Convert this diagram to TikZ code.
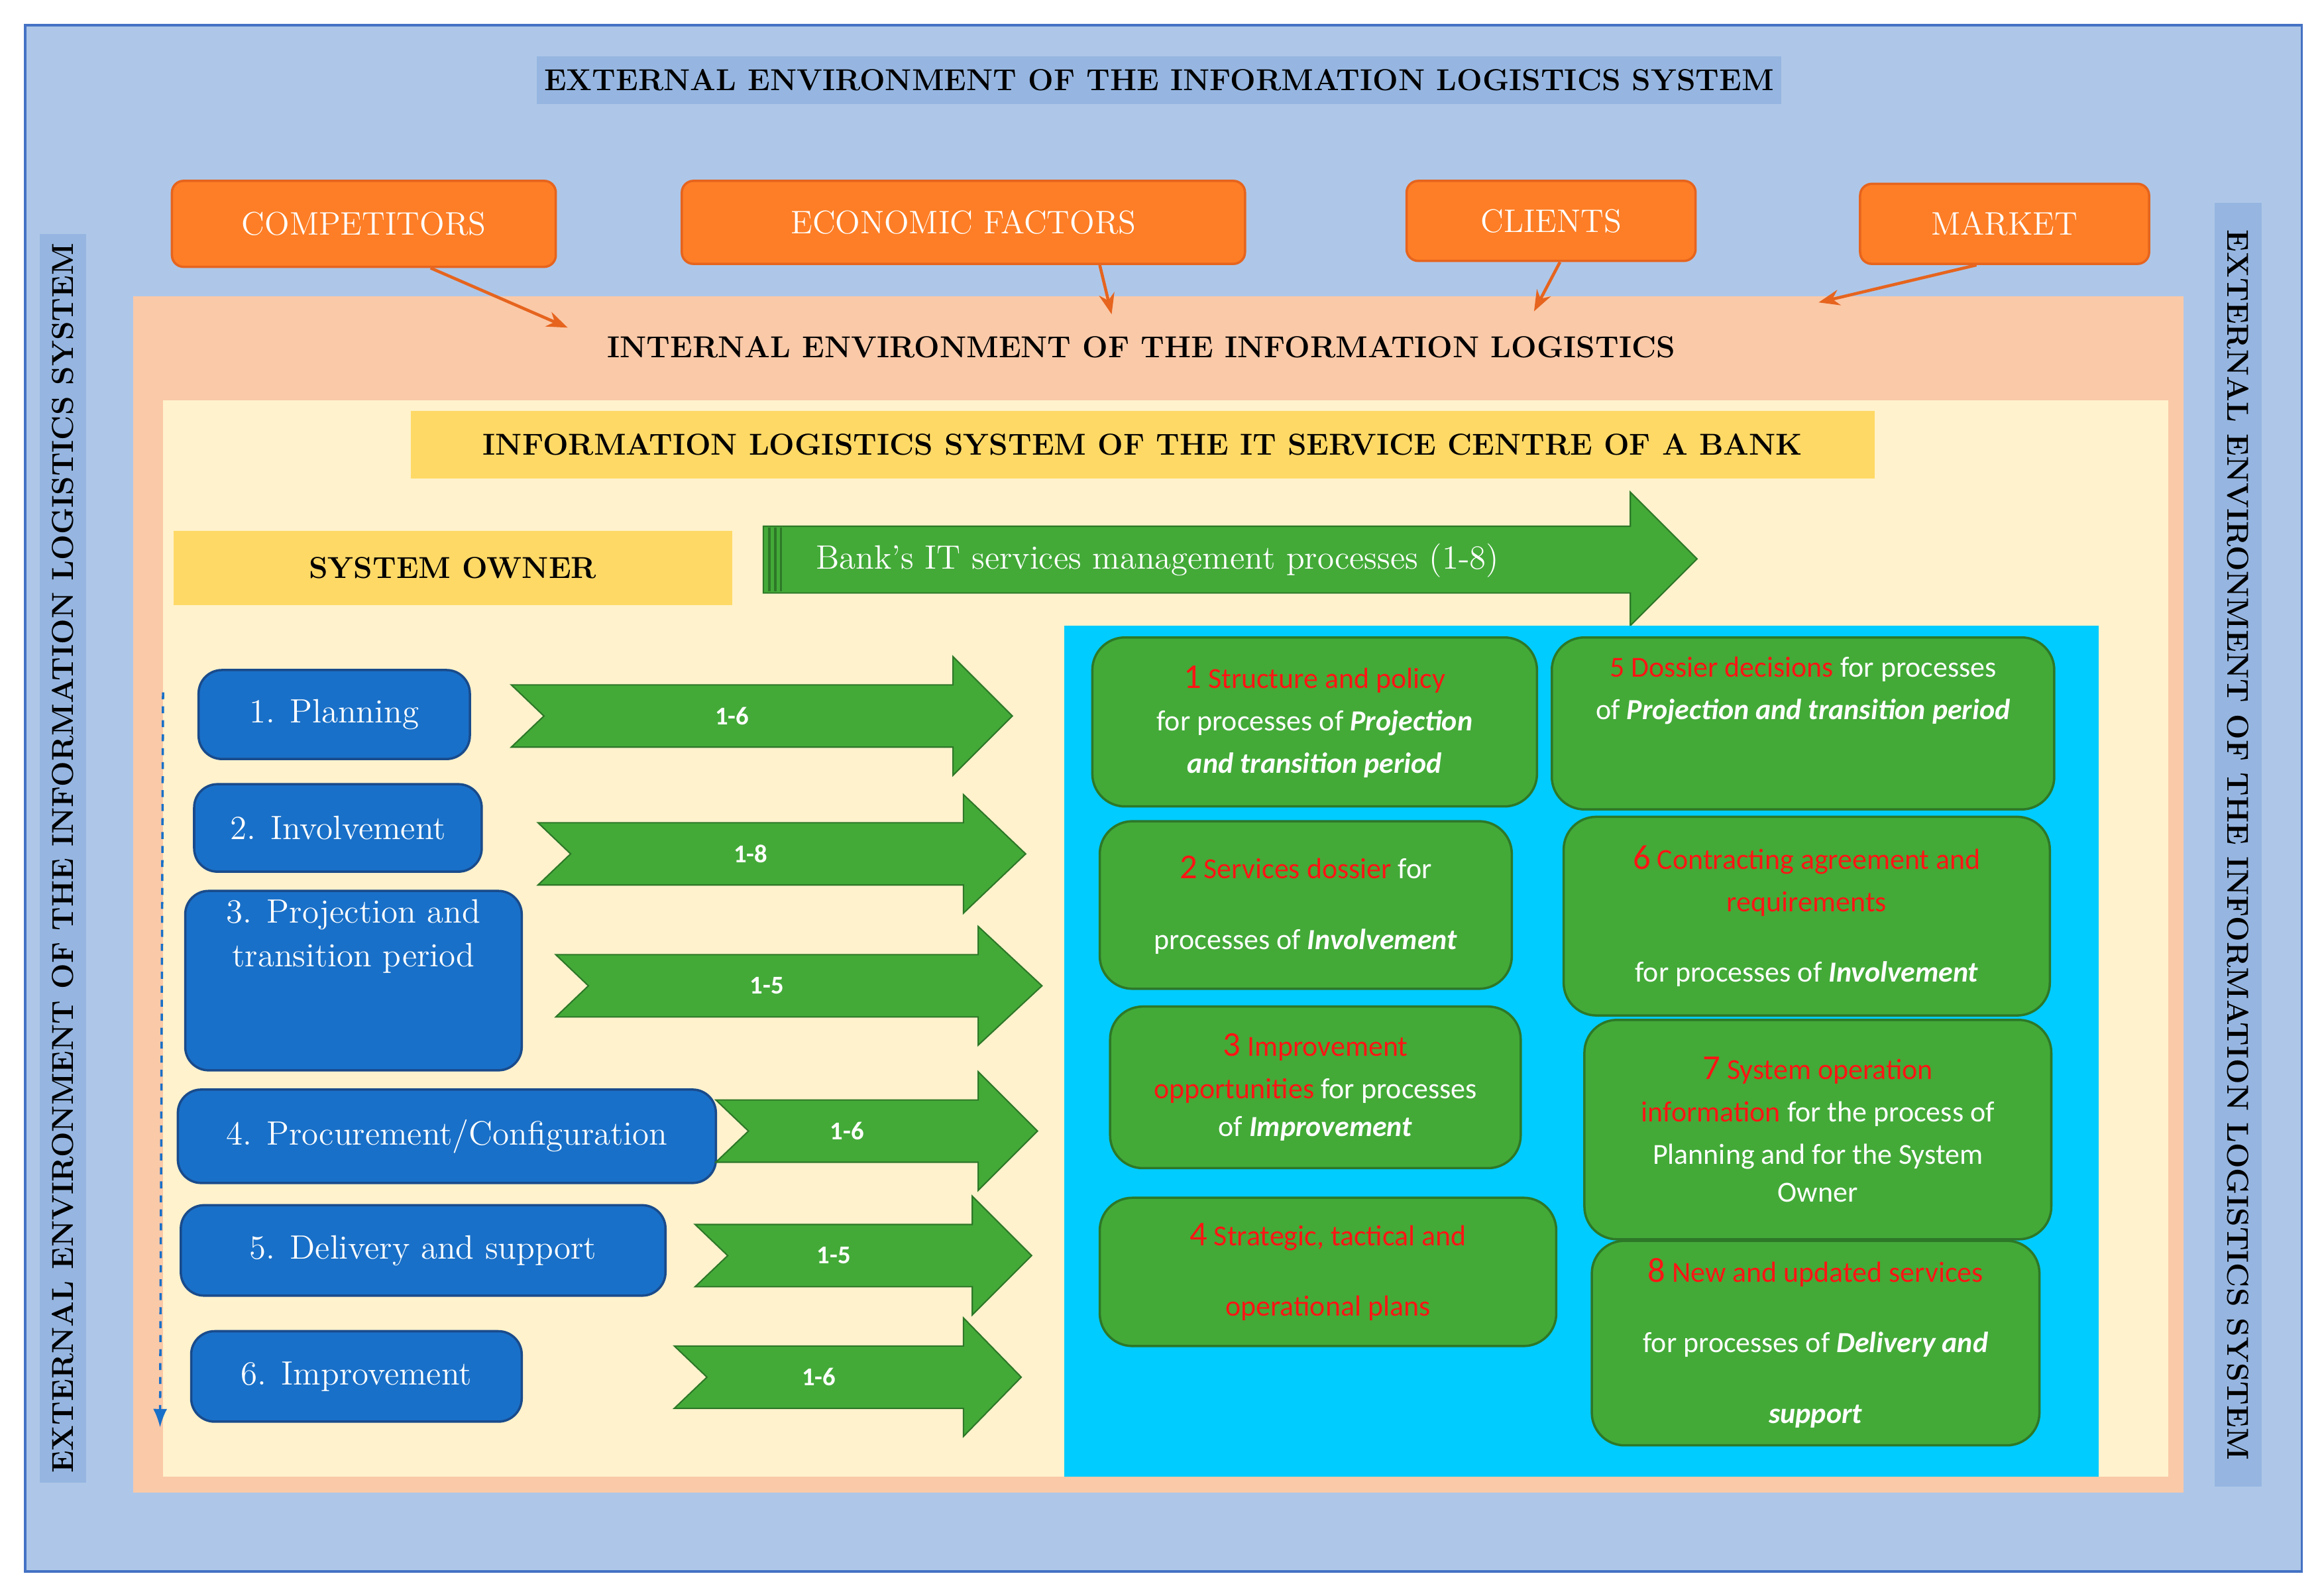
\documentclass[tikz,border=0pt]{standalone}
\usepackage{fontspec}
\newfontfamily\calib{Carlito}
\usetikzlibrary{fit,arrows.meta}
\definecolor{extblue}{RGB}{174,199,232}
\definecolor{bandblue}{RGB}{150,182,225}
\definecolor{frameblue}{RGB}{68,114,196}
\definecolor{orfill}{RGB}{253,126,38}
\definecolor{ordraw}{RGB}{230,100,30}
\definecolor{peach}{RGB}{250,201,168}
\definecolor{cream}{RGB}{255,242,204}
\definecolor{gold}{RGB}{255,217,102}
\definecolor{cyanbg}{RGB}{0,204,255}
\definecolor{procblue}{RGB}{25,112,200}
\definecolor{procdraw}{RGB}{25,75,140}
\definecolor{gfill}{RGB}{67,170,56}
\definecolor{gdraw}{RGB}{45,120,40}
\definecolor{redt}{RGB}{255,20,20}
\newcommand{\fs}[1]{\fontsize{#1}{\dimexpr #1*13/10\relax}\selectfont}
\tikzset{
  area/.style={fit={#1},inner sep=0pt},
  title/.style={font=\fs{13pt}\bfseries},
  factor/.style={fit={#1},inner sep=0pt,fill=orfill,draw=ordraw,line width=1pt,rounded corners=5pt},
  factortext/.style={text=white,font=\fs{14pt}},
  proc/.style={fit={#1},inner sep=0pt,fill=procblue,draw=procdraw,line width=1pt,rounded corners=10pt},
  proctext/.style={text=white,font=\fs{14.5pt},align=center},
  out/.style={fit={#1},inner sep=0pt,fill=gfill,draw=gdraw,line width=1pt,rounded corners=14pt},
  outtext/.style={text=white,font=\calib\fs{12.5pt},align=center},
  influence/.style={draw=ordraw,line width=1.3pt,-{Stealth[length=9pt]}},
  flow/.style={fill=gfill,draw=gdraw,line width=0.6pt}
}
% green chevron arrow: tail x, centre y, head x, tip x, label
\newcommand{\flowarrow}[6]{
  \draw[flow](#1,#2-21)--(#3,#2-21)--(#3,#2-40)--(#4,#2)--(#3,#2+40)--(#3,#2+21)--(#1,#2+21)--(#1+22,#2)--cycle;
  \node[text=white,font=\calib\bfseries\fs{11pt}] (#6) at ({(#1+#3)/2},#2) {#5};
}
\begin{document}
\begin{tikzpicture}[x=0.022366cm,y=-0.022366cm]
\useasboundingbox (0,0) rectangle (1568,1075);
% external environment
\node[area={(17,17)(1553,1060)},fill=extblue,draw=frameblue,line width=1pt] (ext) {};
\node[area={(362,38)(1202,70)},fill=bandblue] (exttitle) {};
\node[title] at (exttitle.center) {EXTERNAL ENVIRONMENT OF THE INFORMATION LOGISTICS SYSTEM};
\node[area={(27,158)(58,1000)},fill=bandblue] (leftband) {};
\node[title,rotate=90] (lefttext) at (leftband.center) {EXTERNAL ENVIRONMENT OF THE INFORMATION LOGISTICS SYSTEM};
\node[area={(1494,137)(1526,1003)},fill=bandblue] (rightband) {};
\node[title,rotate=-90] (righttext) at (rightband.center) {EXTERNAL ENVIRONMENT OF THE INFORMATION LOGISTICS SYSTEM};
% internal environment
\node[area={(90,200)(1473,1007)},fill=peach] (int) {};
\node[title] (inttitle) at (770,234) {INTERNAL ENVIRONMENT OF THE INFORMATION LOGISTICS};
\node[area={(110,270)(1463,996)},fill=cream] (sys) {};
\node[area={(277,277)(1265,323)},fill=gold] (systitle) {};
\node[title] at (systitle.center) {INFORMATION LOGISTICS SYSTEM OF THE IT SERVICE CENTRE OF A BANK};
\node[area={(117,358)(494,408)},fill=gold] (owner) {};
\node[title] at (owner.center) {SYSTEM OWNER};
% factors
\node[factor={(116,122)(375,180)}] (comp) {};
\node[factor={(460,122)(840,178)}] (econ) {};
\node[factor={(949,122)(1144,176)}] (clients) {};
\node[factor={(1255,124)(1450,178)}] (market) {};
\node[factortext] at (comp.center) {COMPETITORS};
\node[factortext] at (econ.center) {ECONOMIC FACTORS};
\node[factortext] at (clients.center) {CLIENTS};
\node[factortext] at (market.center) {MARKET};
\coordinate (ca) at (383,221);
\coordinate (ea) at (750,212);
\coordinate (la) at (1035,210);
\coordinate (ma) at (1227,204);
\draw[influence] (comp.south)++(45,0) coordinate (cs) -- (ca);
\draw[influence] (econ.south)++(92,0) coordinate (es) -- (ea);
\draw[influence] (clients.south)++(6,0) coordinate (ls) -- (la);
\draw[influence] (market.south)++(-19,0) coordinate (ms) -- (ma);
% management processes arrow
\draw[flow](515,355)--(1100,355)--(1100,332)--(1145,377)--(1100,422)--(1100,400)--(515,400)--cycle;
\foreach \sx in {519,523,527}
  \draw[gdraw,line width=1pt] (\sx,356)--(\sx,399);
\node[anchor=west,text=white,font=\fs{14.5pt}] (mgmt) at (545,378) {Bank's IT services management processes (1-8)};
% outputs
\node[area={(718,422)(1416,996)},fill=cyanbg] (outarea) {};
\node[out={(737,430)(1037,544)}] (o1) {};
\node[out={(1047,430)(1386,546)}] (o5) {};
\node[out={(742,554)(1020,667)}] (o2) {};
\node[out={(1055,551)(1383,685)}] (o6) {};
\node[out={(749,679)(1026,788)}] (o3) {};
\node[out={(1069,688)(1384,836)}] (o7) {};
\node[out={(742,808)(1050,908)}] (o4) {};
\node[out={(1074,837)(1376,975)}] (o8) {};
\node[outtext] at (o1.center) {\textcolor{redt}{\fs{15pt}1} \textcolor{redt}{Structure and policy}\\[2pt] for processes of \textit{\bfseries Projection}\\[2pt] \textit{\bfseries and transition period}};
\node[outtext] at (o5.center) {\textcolor{redt}{5 Dossier decisions} for processes\\[2pt] of \textit{\bfseries Projection and transition period}\\[14pt]};
\node[outtext] at (o2.center) {\textcolor{redt}{\fs{15pt}2} \textcolor{redt}{Services dossier} for\\[14pt] processes of \textit{\bfseries Involvement}};
\node[outtext] at (o6.center) {\textcolor{redt}{\fs{15pt}6} \textcolor{redt}{Contracting agreement and}\\[2pt] \textcolor{redt}{requirements}\\[14pt] for processes of \textit{\bfseries Involvement}};
\node[outtext] at (o3.center) {\textcolor{redt}{\fs{15pt}3} \textcolor{redt}{Improvement}\\[2pt] \textcolor{redt}{opportunities} for processes\\[0pt] of \textit{\bfseries Improvement}};
\node[outtext] at (o7.center) {\textcolor{redt}{\fs{15pt}7} \textcolor{redt}{System operation}\\[2pt] \textcolor{redt}{information} for the process of\\[2pt] Planning and for the System\\[0pt] Owner};
\node[outtext] at (o4.center) {\textcolor{redt}{\fs{15pt}4} \textcolor{redt}{Strategic, tactical and}\\[14pt] \textcolor{redt}{operational plans}};
\node[outtext] at (o8.center) {\textcolor{redt}{\fs{15pt}8} \textcolor{redt}{New and updated services}\\[14pt] for processes of \textit{\bfseries Delivery and}\\[14pt] \textit{\bfseries support}};
% processes
\node[proc={(134,452)(317,512)}] (p1) {};
\node[proc={(131,529)(325,588)}] (p2) {};
\node[proc={(125,601)(352,722)}] (p3) {};
\node[proc={(120,735)(483,798)}] (p4) {};
\node[proc={(122,813)(449,874)}] (p5) {};
\node[proc={(129,898)(352,959)}] (p6) {};
\node[proctext] at (p1.center) {1. Planning};
\node[proctext] at (p2.center) {2. Involvement};
\node[proctext] at (p3.center) {3. Projection and\\transition period\\[22pt]};
\node[proctext] at (p4.center) {4. Procurement/Configuration};
\node[proctext] at (p5.center) {5. Delivery and support};
\node[proctext] at (p6.center) {6. Improvement};
\flowarrow{345}{483}{643}{683}{1-6}{a1}
\flowarrow{363}{576}{650}{692}{1-8}{a2}
\flowarrow{375}{665}{660}{703}{1-5}{a3}
\flowarrow{483}{763}{660}{700}{1-6}{a4}
\flowarrow{469}{847}{656}{696}{1-5}{a5}
\flowarrow{455}{929}{650}{689}{1-6}{a6}
\coordinate (seqtop) at (110,467);
\coordinate (seqend) at (108,963);
\draw[procblue,dashed,line width=1pt,-{Latex[length=8pt]}] (seqtop) -- (seqend);
\end{tikzpicture}
\end{document}
